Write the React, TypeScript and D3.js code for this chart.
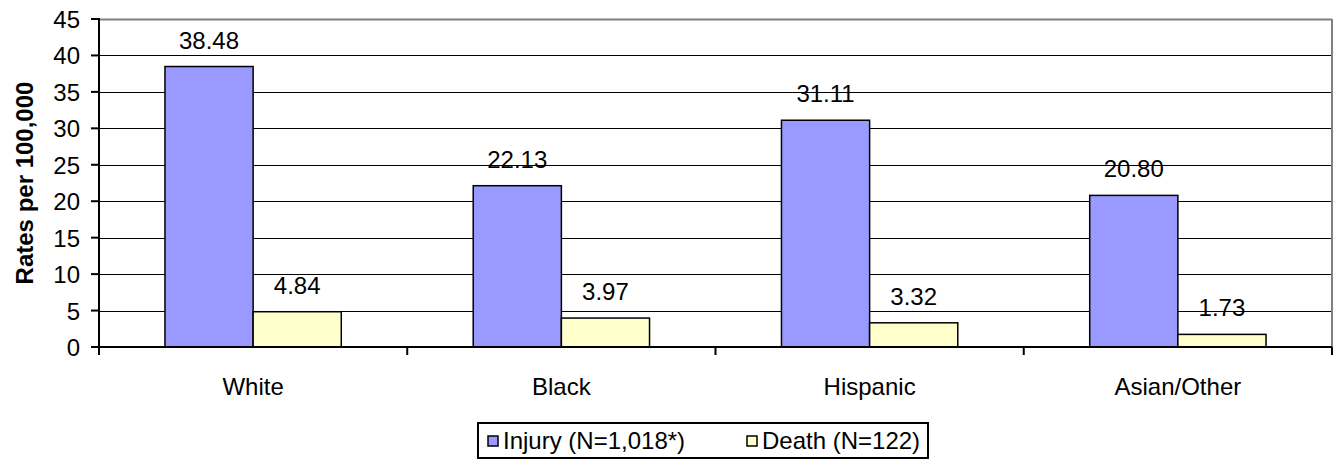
import React from "react";
import * as d3 from "d3";

const categories = ["White", "Black", "Hispanic", "Asian/Other"];
const seriesNames = ["Injury (N=1,018*)", "Death (N=122)"];
const injuryRates = [38.48, 22.13, 31.11, 20.8];
const deathRates = [4.84, 3.97, 3.32, 1.73];
const yTicks = [0, 5, 10, 15, 20, 25, 30, 35, 40, 45];
const seriesColors = ["#9999FF", "#FFFFCC"];

const W = 1336;
const H = 461;
const left = 99;
const right = 1332;
const top = 19;
const bottom = 347;
const FONT = "'Liberation Sans', Arial, sans-serif";

export default function App() {
  const x = d3
    .scaleBand<string>()
    .domain(categories)
    .range([left, right])
    .paddingInner(0.428)
    .paddingOuter(0.214);
  const xs = d3
    .scaleBand<string>()
    .domain(seriesNames)
    .range([0, x.bandwidth()]);
  const y = d3.scaleLinear().domain([0, 45]).range([bottom, top]);
  const series = [injuryRates, deathRates];
  const step = x.step();
  const catBounds = d3.range(categories.length + 1).map((i) => left + i * step);

  return (
    <svg
      width={W}
      height={H}
      style={{ position: "absolute", left: 0, top: 0, display: "block", background: "#fff" }}
      fontFamily={FONT}
    >
      {/* gridlines */}
      {yTicks.slice(1).map((t) => (
        <line
          key={"g" + t}
          x1={left}
          x2={right}
          y1={Math.round(y(t)) + 0.5}
          y2={Math.round(y(t)) + 0.5}
          stroke={t === 45 ? "#808080" : "#000"}
          strokeWidth={t === 45 ? 2 : 1}
        />
      ))}
      {/* right border */}
      <line x1={right} x2={right} y1={top} y2={bottom} stroke="#808080" strokeWidth={2} />

      {/* bars */}
      {series.map((vals, si) =>
        vals.map((v, ci) => {
          const bx = (x(categories[ci]) as number) + (xs(seriesNames[si]) as number);
          const by = y(v);
          return (
            <g key={si + "-" + ci}>
              <rect
                x={bx}
                y={by}
                width={xs.bandwidth()}
                height={bottom - by}
                fill={seriesColors[si]}
                stroke="#000"
                strokeWidth={1.5}
              />
              <text
                x={bx + xs.bandwidth() / 2}
                y={by - 18}
                textAnchor="middle"
                fontSize={24}
                fill="#000"
              >
                {v.toFixed(2)}
              </text>
            </g>
          );
        })
      )}

      {/* axes */}
      <line x1={left} x2={left} y1={top - 1} y2={bottom + 8} stroke="#000" strokeWidth={2} />
      <line x1={left - 8} x2={right} y1={bottom} y2={bottom} stroke="#000" strokeWidth={2} />
      {yTicks.map((t) => (
        <g key={"t" + t}>
          <line x1={left - 8} x2={left} y1={y(t)} y2={y(t)} stroke="#000" strokeWidth={2} />
          <text x={80} y={y(t) + 9} textAnchor="end" fontSize={24} fill="#000">
            {t}
          </text>
        </g>
      ))}
      {catBounds.map((bx, i) => (
        <line key={"cb" + i} x1={bx} x2={bx} y1={bottom} y2={bottom + 8} stroke="#000" strokeWidth={2} />
      ))}
      {categories.map((c) => (
        <text
          key={c}
          x={(x(c) as number) + x.bandwidth() / 2}
          y={395}
          textAnchor="middle"
          fontSize={24}
          fill="#000"
        >
          {c}
        </text>
      ))}

      {/* y axis title */}
      <text
        transform={`translate(33, ${(top + bottom) / 2}) rotate(-90)`}
        textAnchor="middle"
        fontSize={24}
        fontWeight="bold"
        fill="#000"
      >
        Rates per 100,000
      </text>

      {/* legend */}
      <rect x={478} y={423} width={450} height={35} fill="#fff" stroke="#000" strokeWidth={2} />
      {seriesNames.map((s, i) => {
        const lx = i === 0 ? 488 : 747;
        return (
          <g key={s}>
            <rect x={lx} y={436} width={10} height={10} fill={seriesColors[i]} stroke="#000" strokeWidth={1.5} />
            <text x={lx + 15} y={449} fontSize={24} fill="#000">
              {s}
            </text>
          </g>
        );
      })}
    </svg>
  );
}
